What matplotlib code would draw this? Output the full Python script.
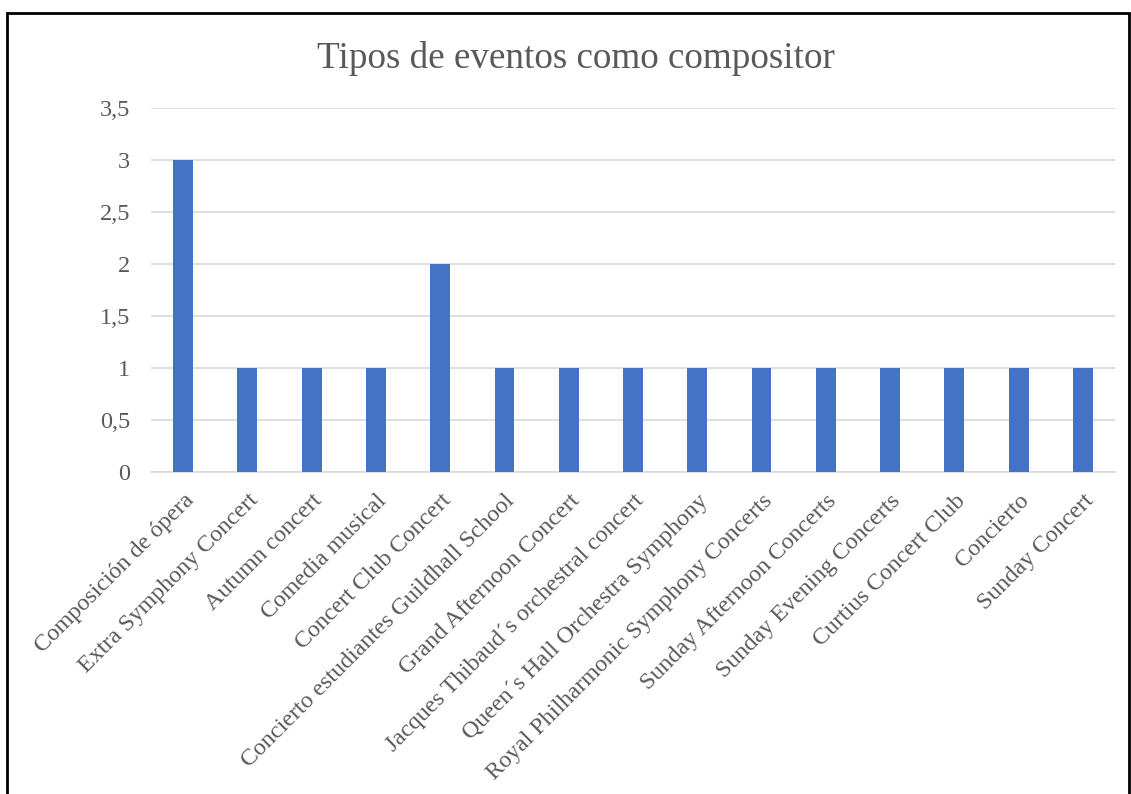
import numpy as np
import matplotlib.pyplot as plt

plt.rcParams['font.family'] = ['Liberation Serif', 'DejaVu Serif']

categories = ['Composición de ópera', 'Extra Symphony Concert', 'Autumn concert',
              'Comedia musical', 'Concert Club Concert',
              'Concierto estudiantes Guildhall School', 'Grand Afternoon Concert',
              'Jacques Thibaud´s orchestral concert', 'Queen´s Hall Orchestra Symphony',
              'Royal Philharmonic Symphony Concerts', 'Sunday Afternoon Concerts',
              'Sunday Evening Concerts', 'Curtius Concert Club', 'Concierto',
              'Sunday Concert']
values = [3, 1, 1, 1, 2, 1, 1, 1, 1, 1, 1, 1, 1, 1, 1]
yticks = [0, 0.5, 1, 1.5, 2, 2.5, 3, 3.5]
ytick_labels = ['0', '0,5', '1', '1,5', '2', '2,5', '3', '3,5']

gray = '#595959'

fig = plt.figure(figsize=(11.31, 7.94), dpi=100)
ax = fig.add_axes([151 / 1131, 1 - 472 / 794, (1115 - 151) / 1131, (472 - 108) / 794])

x = np.arange(len(categories))
ax.bar(x, values, width=0.31, color='#4472C4', zorder=3)

ax.set_xlim(-0.5, len(categories) - 0.5)
ax.set_ylim(0, 3.5)
ax.set_yticks(yticks)
ax.set_yticklabels(ytick_labels, fontsize=17.5, color=gray)
ax.set_xticks(x)
ax.set_xticklabels(categories, rotation=45, ha='right', va='top',
                   rotation_mode='anchor', fontsize=17.3, color=gray)
ax.tick_params(axis='both', length=0)
ax.tick_params(axis='y', pad=15)
ax.tick_params(axis='x', pad=13)
ax.grid(axis='y', color='#D9D9D9', linewidth=1.2, zorder=0)
for s in ['top', 'right', 'left']:
    ax.spines[s].set_visible(False)
ax.spines['bottom'].set_color('#D9D9D9')
ax.spines['bottom'].set_linewidth(1.2)

fig.text(576 / 1131, 1 - 58 / 794, 'Tipos de eventos como compositor',
         ha='center', va='center', fontsize=26.7, color=gray)

# black frame around chart (bottom runs off the image)
frame = plt.Rectangle((7 / 1131, -0.05), (1129 - 7) / 1131, (794 - 13) / 794 + 0.05,
                      transform=fig.transFigure, fill=False, edgecolor='black',
                      linewidth=2, clip_on=False)
fig.patches.append(frame)

fig.savefig('out.png', dpi=100)
